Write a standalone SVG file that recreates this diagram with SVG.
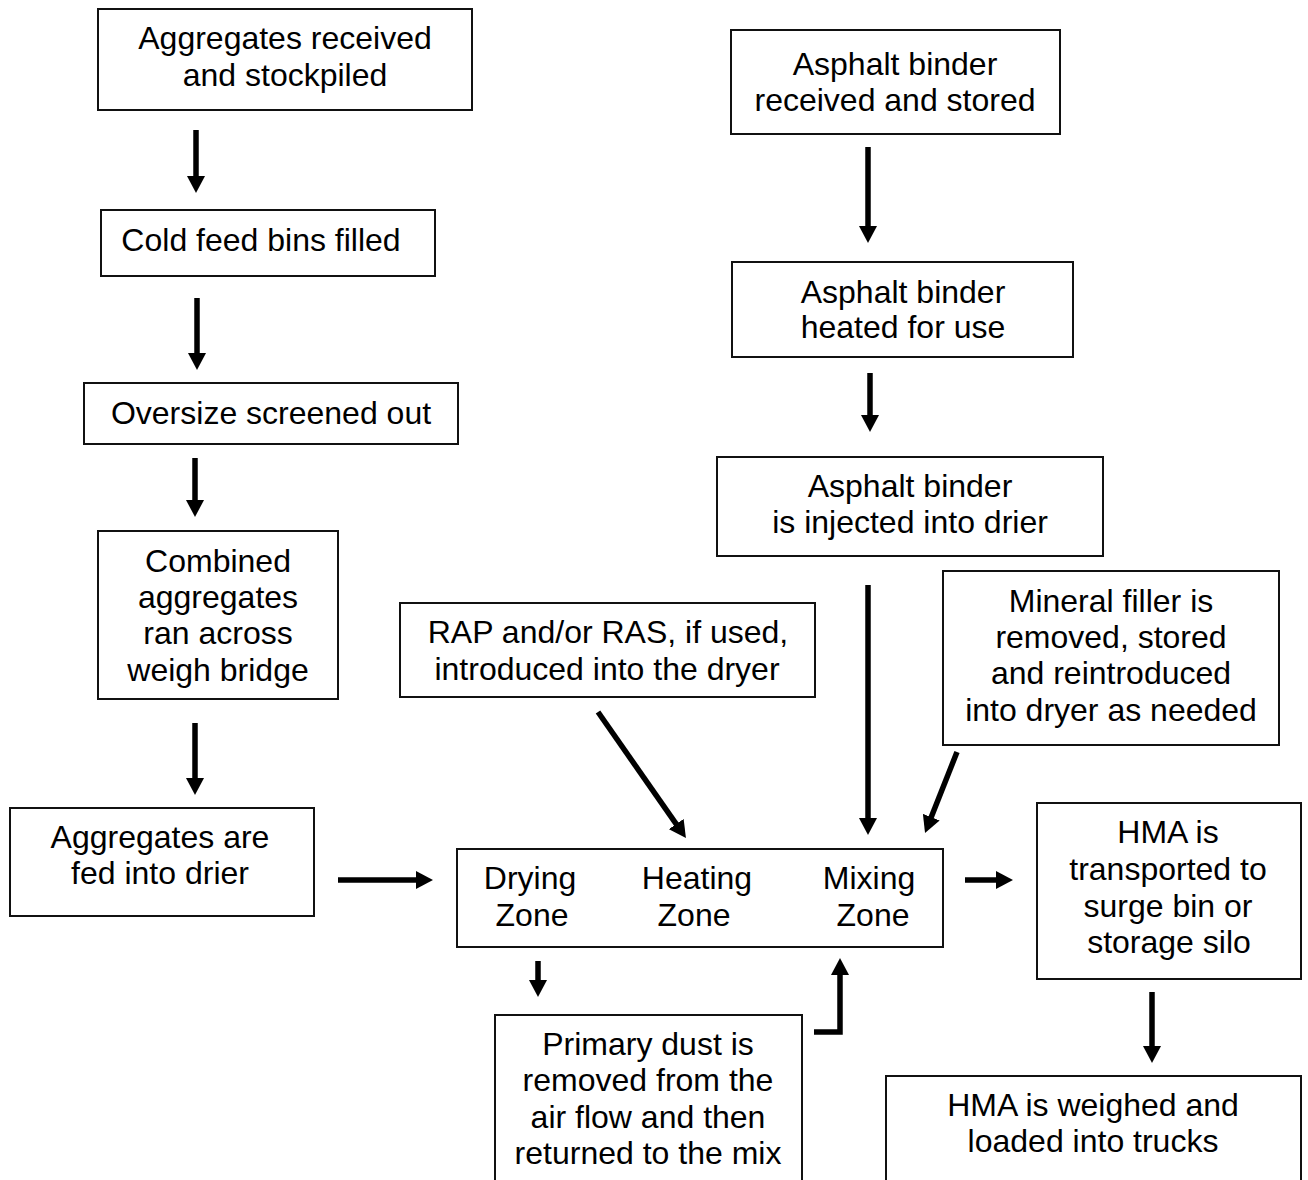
<svg xmlns="http://www.w3.org/2000/svg" width="1308" height="1180" viewBox="0 0 1308 1180">
<style>
.box{fill:#fff;stroke:#111;stroke-width:2}
.t{font-family:"Liberation Sans",Arial,sans-serif;font-size:32px;fill:#000;text-anchor:middle}
.c{fill:none;stroke:#000;stroke-width:5.5;marker-end:url(#ah)}
</style>
<defs>
<marker id="ah" markerUnits="userSpaceOnUse" markerWidth="18" markerHeight="18" viewBox="0 0 18 18" refX="1" refY="9" orient="auto">
<path d="M0,0 L17,9 L0,18 Z" fill="#000"/>
</marker>
</defs>
<rect width="1308" height="1180" fill="#fff"/>
<g id="connectors">
<line class="c" x1="196" y1="130" x2="196" y2="177"/>
<line class="c" x1="197" y1="298" x2="197" y2="354"/>
<line class="c" x1="195" y1="458" x2="195" y2="501"/>
<line class="c" x1="195" y1="723" x2="195" y2="779"/>
<line class="c" x1="338" y1="880" x2="417" y2="880"/>
<line class="c" x1="868" y1="147" x2="868" y2="227"/>
<line class="c" x1="870" y1="373" x2="870" y2="416"/>
<line class="c" x1="868" y1="585" x2="868" y2="819"/>
<line class="c" x1="598" y1="712" x2="676.8" y2="824.9"/>
<line class="c" x1="957" y1="752" x2="930.9" y2="818.1"/>
<line class="c" x1="965" y1="880" x2="997" y2="880"/>
<line class="c" x1="1152" y1="992" x2="1152" y2="1047"/>
<line class="c" x1="538" y1="961" x2="538" y2="981"/>
<polyline class="c" points="814,1032 840,1032 840,974"/>
</g>
<g id="agg-received"><rect class="box" x="98" y="9" width="374" height="101"/><text class="t" x="285" y="49">Aggregates received</text><text class="t" x="285" y="86">and stockpiled</text></g>
<g id="cold-feed"><rect class="box" x="101" y="210" width="334" height="66"/><text class="t" x="261" y="251">Cold feed bins filled</text></g>
<g id="oversize"><rect class="box" x="84" y="383" width="374" height="61"/><text class="t" x="271" y="424">Oversize screened out</text></g>
<g id="combined"><rect class="box" x="98" y="531" width="240" height="168"/><text class="t" x="218" y="572">Combined</text><text class="t" x="218" y="608">aggregates</text><text class="t" x="218" y="644">ran across</text><text class="t" x="218" y="681">weigh bridge</text></g>
<g id="agg-fed"><rect class="box" x="10" y="808" width="304" height="108"/><text class="t" x="160" y="848">Aggregates are</text><text class="t" x="160" y="884">fed into drier</text></g>
<g id="drier"><rect class="box" x="457" y="849" width="486" height="98"/><text class="t" x="530" y="889">Drying</text><text class="t" x="532" y="926">Zone</text><text class="t" x="697" y="889">Heating</text><text class="t" x="694" y="926">Zone</text><text class="t" x="869" y="889">Mixing</text><text class="t" x="873" y="926">Zone</text></g>
<g id="rap"><rect class="box" x="400" y="603" width="415" height="94"/><text class="t" x="608" y="643">RAP and/or RAS, if used,</text><text class="t" x="607" y="680">introduced into the dryer</text></g>
<g id="ab-received"><rect class="box" x="731" y="30" width="329" height="104"/><text class="t" x="895" y="75">Asphalt binder</text><text class="t" x="895" y="111">received and stored</text></g>
<g id="ab-heated"><rect class="box" x="732" y="262" width="341" height="95"/><text class="t" x="903" y="303">Asphalt binder</text><text class="t" x="903" y="338">heated for use</text></g>
<g id="ab-injected"><rect class="box" x="717" y="457" width="386" height="99"/><text class="t" x="910" y="497">Asphalt binder</text><text class="t" x="910" y="533">is injected into drier</text></g>
<g id="mineral"><rect class="box" x="943" y="571" width="336" height="174"/><text class="t" x="1111" y="612">Mineral filler is</text><text class="t" x="1111" y="648">removed, stored</text><text class="t" x="1111" y="684">and reintroduced</text><text class="t" x="1111" y="721">into dryer as needed</text></g>
<g id="hma-transport"><rect class="box" x="1037" y="803" width="264" height="176"/><text class="t" x="1168" y="843">HMA is</text><text class="t" x="1168" y="880">transported to</text><text class="t" x="1168" y="917">surge bin or</text><text class="t" x="1169" y="953">storage silo</text></g>
<g id="hma-weighed"><rect class="box" x="886" y="1076" width="415" height="140"/><text class="t" x="1093" y="1116">HMA is weighed and</text><text class="t" x="1093" y="1152">loaded into trucks</text></g>
<g id="dust"><rect class="box" x="495" y="1015" width="307" height="200"/><text class="t" x="648" y="1055">Primary dust is</text><text class="t" x="648" y="1091">removed from the</text><text class="t" x="648" y="1128">air flow and then</text><text class="t" x="648" y="1164">returned to the mix</text></g>
</svg>
